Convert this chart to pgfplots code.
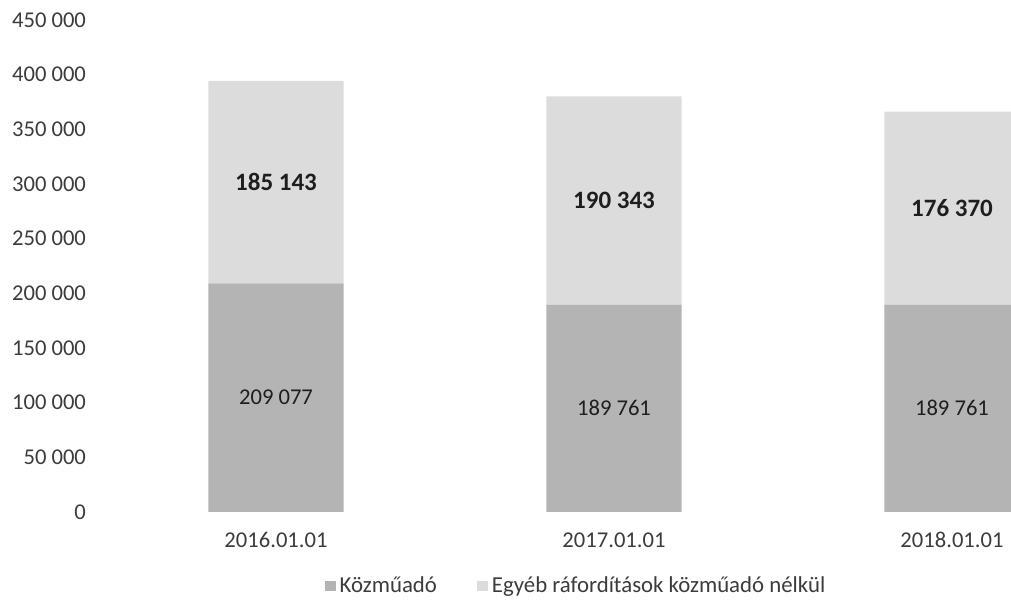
\documentclass[border=0pt]{standalone}
\usepackage{pgfplots}
\pgfplotsset{compat=1.18}
\usepackage{pgfplotstable}
\usepackage{fontspec}
\setmainfont{Carlito}
\definecolor{barA}{HTML}{B4B4B4}
\definecolor{barB}{HTML}{DCDCDC}
\definecolor{txt}{HTML}{3C3C3C}
\definecolor{lbl}{HTML}{1E1E1E}

\pgfplotstableread{
x kozmu egyeb
0 209077 185143
1 189761 190343
2 189761 176370
}\datatable

\pgfplotstableread{
x y label
0 104538.5 {209 077}
1 94880.5 {189 761}
2 94880.5 {189 761}
}\lowlabels

\pgfplotstableread{
x y label
0 301648.5 {185 143}
1 284932.5 {190 343}
2 277946 {176 370}
}\highlabels

\pgfplotsset{
  common/.style={
    at={(0,0)}, anchor=south west,
    scale only axis, width=452pt, height=246pt,
    xmin=-0.5, xmax=2.1746, ymin=0, ymax=450000,
    scaled ticks=false,
    font=\fontsize{11.3}{13.5}\selectfont,
  }
}

\begin{document}
\begin{tikzpicture}
\useasboundingbox (-53.5pt,-45.5pt) rectangle (452pt,256pt);
\begin{axis}[
  common,
  ybar stacked, bar width=0.4,
  axis line style={draw=none},
  major tick length=0pt,
  xtick={0,1,2},
  xticklabels={2016.01.01,2017.01.01,2018.01.01},
  ytick={0,50000,100000,150000,200000,250000,300000,350000,400000,450000},
  yticklabels={0,50 000,100 000,150 000,200 000,250 000,300 000,350 000,400 000,450 000},
  yticklabel style={text=txt, anchor=east, xshift=-7pt},
  xticklabel style={text=txt, anchor=base, yshift=-18pt},
  legend style={draw=none, at={(0.52,-0.150)}, anchor=center,
    legend columns=2, text=txt, font=\fontsize{11.4}{13.5}\selectfont,
    /tikz/every even column/.append style={column sep=18pt}},
  legend image code/.code={\fill[#1] (0pt,-2.5pt) rectangle (5.5pt,2.5pt);},
]
\addplot[fill=barA, draw=none] table[x=x, y=kozmu] {\datatable};
\addlegendentry{Közműadó}
\addplot[fill=barB, draw=none] table[x=x, y=egyeb] {\datatable};
\addlegendentry{Egyéb ráfordítások közműadó nélkül}
\end{axis}
\begin{axis}[
  common, hide axis,
  nodes near coords, point meta=explicit symbolic,
]
\addplot[draw=none, mark=none, nodes near coords style={anchor=center, text=lbl, font=\fontsize{11.3}{13.5}\selectfont}]
  table[x=x, y=y, meta=label] {\lowlabels};
\addplot[draw=none, mark=none, nodes near coords style={anchor=center, text=lbl, font=\bfseries\fontsize{12.5}{14.5}\selectfont}]
  table[x=x, y=y, meta=label] {\highlabels};
\end{axis}
\end{tikzpicture}
\end{document}
